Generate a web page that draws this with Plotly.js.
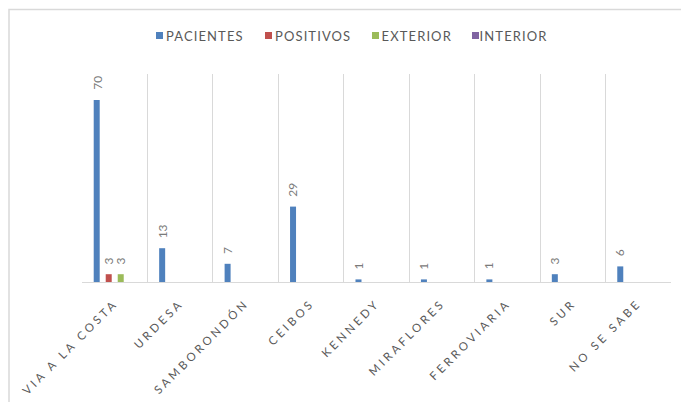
<!DOCTYPE html>
<html>
<head>
<meta charset="utf-8">
<script src="https://cdn.plot.ly/plotly-3.0.1.min.js"></script>
<style>
  html, body { margin: 0; padding: 0; background: #fff; }
  #chart { width: 681px; height: 402px; }
  .xtick text { letter-spacing: 3.2px; }
  .legtext .annotation-text { letter-spacing: 1.1px; }
</style>
</head>
<body>
<div id="chart"></div>
<script>
const categories = ["VIA A LA COSTA", "URDESA", "SAMBORONDÓN", "CEIBOS", "KENNEDY", "MIRAFLORES", "FERROVIARIA", "SUR", "NO SE SABE"];
const pacientes = [70, 13, 7, 29, 1, 1, 1, 3, 6];
const positivos = [3, null, null, null, null, null, null, null, null];
const exterior = [3, null, null, null, null, null, null, null, null];
const interior = [null, null, null, null, null, null, null, null, null];

const seriesNames = ["PACIENTES", "POSITIVOS", "EXTERIOR", "INTERIOR"];
const seriesValues = [pacientes, positivos, exterior, interior];
const seriesColors = ["#4F81BD", "#C0504D", "#9BBB59", "#8064A2"];

const FONT = "Lato, 'DejaVu Sans', sans-serif";

// plot area in pixels (for legend placement in paper coords)
const L = 82, R = 10, T = 74, B = 120, W = 681, H = 402;
const PW = W - L - R, PH = H - T - B;
const px2x = p => (p - L) / PW;
const py2y = p => (H - B - p) / PH;

const traces = seriesValues.map((vals, i) => ({
  type: "bar",
  name: seriesNames[i],
  x: categories,
  y: vals,
  marker: { color: seriesColors[i] },
  hoverinfo: "none",
  showlegend: false
}));

// data labels (rotated, above each bar)
const bargap = 0.266;
const slot = (1 - bargap) / seriesValues.length;
const annotations = [];
seriesValues.forEach((vals, i) => {
  const off = -(1 - bargap) / 2 + slot * (i + 0.5);
  vals.forEach((v, j) => {
    if (v == null) return;
    annotations.push({
      xref: "x", yref: "y",
      x: j + off, y: v,
      text: String(v),
      showarrow: false,
      textangle: -90,
      xanchor: "center", yanchor: "bottom",
      yshift: 8,
      font: { family: FONT, size: 12, color: "#7a7a7a" }
    });
  });
});

// legend: swatches + labels
const legendSwatchX = [156, 265, 372, 472];
const legendTextX = [169, 278, 384, 482];
const legendY = 35.5;
const shapes = [{
  type: "rect",
  xref: "paper", yref: "paper",
  x0: px2x(9), x1: px2x(690),
  y0: py2y(420), y1: py2y(9.5),
  line: { color: "#d9d9d9", width: 1.5 },
  fillcolor: "rgba(0,0,0,0)",
  layer: "below"
}];
seriesNames.forEach((name, i) => {
  shapes.push({
    type: "rect", xref: "paper", yref: "paper",
    x0: px2x(legendSwatchX[i]), x1: px2x(legendSwatchX[i] + 7),
    y0: py2y(legendY + 3.5), y1: py2y(legendY - 3.5),
    line: { width: 0 }, fillcolor: seriesColors[i]
  });
  annotations.push({
    xref: "paper", yref: "paper",
    x: px2x(legendTextX[i]), y: py2y(legendY),
    xanchor: "left", yanchor: "middle",
    text: name, showarrow: false,
    font: { family: FONT, size: 13, color: "#595959" },
    name: "legtext"
  });
});

const layout = {
  width: W,
  height: H,
  margin: { l: L, r: R, t: T, b: B },
  paper_bgcolor: "#ffffff",
  plot_bgcolor: "#ffffff",
  barmode: "group",
  bargap: bargap,
  bargroupgap: 0.5,
  showlegend: false,
  xaxis: {
    type: "category",
    tickson: "boundaries",
    showgrid: true,
    gridcolor: "#d9d9d9",
    gridwidth: 1,
    showline: true,
    linecolor: "#d9d9d9",
    linewidth: 1,
    ticks: "",
    ticklabelstandoff: 9,
    tickangle: -45,
    tickfont: { family: FONT, size: 11.5, color: "#595959" },
    fixedrange: true
  },
  yaxis: {
    range: [0, 80],
    visible: false,
    fixedrange: true
  },
  shapes: shapes,
  annotations: annotations
};

Plotly.newPlot("chart", traces, layout, { displayModeBar: false, staticPlot: true }).then(() => {
  document.querySelectorAll(".annotation").forEach(g => {
    const t = g.textContent;
    if (seriesNames.includes(t)) g.classList.add("legtext");
  });
});
</script>
</body>
</html>
